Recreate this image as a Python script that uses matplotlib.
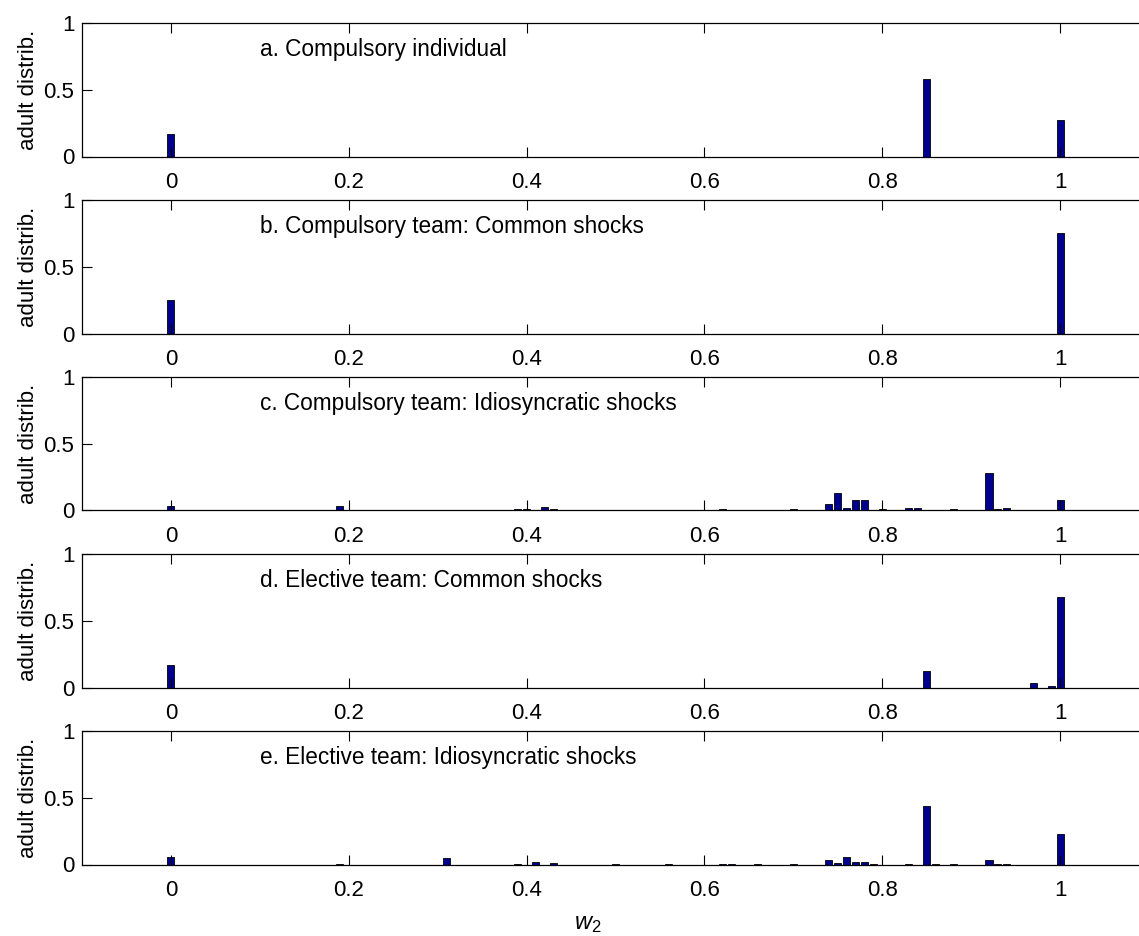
import matplotlib
matplotlib.use("Agg")
import matplotlib.pyplot as plt

plt.rcParams['font.family'] = ['Liberation Sans', 'DejaVu Sans']
plt.rcParams['mathtext.fontset'] = 'custom'
plt.rcParams['mathtext.it'] = 'Liberation Sans:italic'
plt.rcParams['mathtext.rm'] = 'Liberation Sans'

# ---------------- data ----------------
titles = ["a. Compulsory individual",
          "b. Compulsory team: Common shocks",
          "c. Compulsory team: Idiosyncratic shocks",
          "d. Elective team: Common shocks",
          "e. Elective team: Idiosyncratic shocks"]

a_x = [0.0, 0.85, 1.0]
a_y = [0.17, 0.58, 0.27]

b_x = [0.0, 1.0]
b_y = [0.25, 0.75]

c_x = [0.00, 0.15, 0.17, 0.19, 0.26, 0.33, 0.37, 0.39, 0.40, 0.42, 0.43, 0.47,
       0.51, 0.53, 0.58, 0.62, 0.63, 0.64, 0.66, 0.68, 0.70, 0.71,
       0.74, 0.75, 0.76, 0.77, 0.78, 0.80, 0.81, 0.83, 0.84, 0.85, 0.87, 0.88,
       0.89, 0.92, 0.93, 0.94, 0.95, 0.96, 1.00]
c_y = [0.035, 0.002, 0.002, 0.035, 0.002, 0.002, 0.002, 0.010, 0.010, 0.025, 0.008, 0.002,
       0.002, 0.002, 0.002, 0.008, 0.006, 0.004, 0.002, 0.002, 0.012, 0.002,
       0.050, 0.130, 0.020, 0.080, 0.080, 0.010, 0.002, 0.015, 0.015, 0.003, 0.002, 0.013,
       0.002, 0.280, 0.012, 0.015, 0.002, 0.005, 0.075]

d_x = [0.0, 0.85, 0.97, 0.99, 1.0]
d_y = [0.17, 0.125, 0.03, 0.012, 0.68]

e_x = [0.00, 0.19, 0.31, 0.39, 0.41, 0.43, 0.50, 0.56, 0.62, 0.63, 0.66, 0.70,
       0.74, 0.75, 0.76, 0.77, 0.78, 0.79, 0.83, 0.85, 0.86, 0.88, 0.92, 0.93, 0.94, 1.00]
e_y = [0.057, 0.005, 0.047, 0.002, 0.015, 0.008, 0.002, 0.002, 0.002, 0.002, 0.006, 0.002,
       0.033, 0.012, 0.055, 0.022, 0.015, 0.002, 0.002, 0.435, 0.002, 0.002, 0.037, 0.002, 0.002, 0.228]

panels = [(a_x, a_y), (b_x, b_y), (c_x, c_y), (d_x, d_y), (e_x, e_y)]

x_ticks = [0, 0.2, 0.4, 0.6, 0.8, 1]
x_ticklabels = ["0", "0.2", "0.4", "0.6", "0.8", "1"]
y_ticks = [0, 0.5, 1]
y_ticklabels = ["0", "0.5", "1"]

# ---------------- figure ----------------
W, H = 1139, 936
fig = plt.figure(figsize=(W / 100, H / 100), dpi=100)

left_px = 82
width_px = 1067
height_px = 133.5
tops_px = [23, 200, 377, 554, 731]

bar_color = '#00008F'
fs = 16

for i, ((xs, ys), title, top) in enumerate(zip(panels, titles, tops_px)):
    ax = fig.add_axes([left_px / W, 1 - (top + height_px) / H, width_px / W, height_px / H])
    ax.bar(xs, ys, width=0.008, color=bar_color, edgecolor='black', linewidth=0.6)
    ax.set_xlim(-0.1, 1.1)
    ax.set_ylim(0, 1)
    ax.set_xticks(x_ticks)
    ax.set_xticklabels(x_ticklabels)
    ax.set_yticks(y_ticks)
    ax.set_yticklabels(y_ticklabels)
    ax.tick_params(axis='x', direction='in', length=7.5, width=0.8, top=True, bottom=True,
                   labelsize=fs, pad=11)
    ax.tick_params(axis='y', direction='in', length=7.5, width=0.8, left=True, right=True,
                   labelsize=fs, pad=5.5)
    for sp in ax.spines.values():
        sp.set_linewidth(0.9)
    ax.set_ylabel("adult distrib.", fontsize=fs, labelpad=3)
    ax.text(0.1, 0.8, title, fontsize=fs + 0.3, va='center', ha='left')
    if i == 4:
        ax.set_xlabel(r"$w_2$", fontsize=fs + 1)
        ax.xaxis.set_label_coords((588 - left_px) / width_px, -0.36)

fig.savefig("out.png", dpi=100)
